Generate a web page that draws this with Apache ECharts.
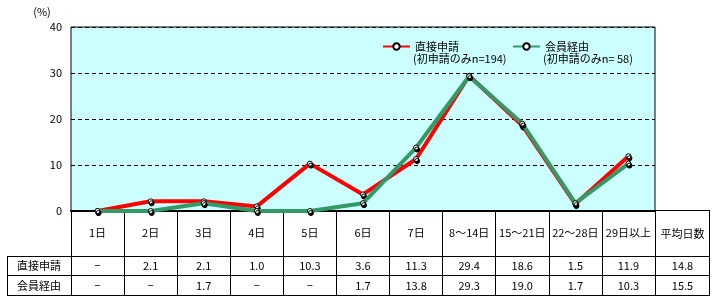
<!DOCTYPE html>
<html>
<head>
<meta charset="utf-8">
<script src="https://cdn.jsdelivr.net/npm/echarts@6/dist/echarts.min.js"></script>
<style>
  html, body { margin: 0; padding: 0; background: #fff; }
  #chart { width: 720px; height: 303px; }
</style>
</head>
<body>
<div id="chart"></div>
<script>
// Days required per application type (%), with summary table below the plot
const categories = ['1日', '2日', '3日', '4日', '5日', '6日', '7日', '8〜14日', '15〜21日', '22〜28日', '29日以上'];
const directValues = [0, 2.1, 2.1, 1.0, 10.3, 3.6, 11.3, 29.4, 18.6, 1.5, 11.9];
const memberValues = [0, 0, 1.7, 0, 0, 1.7, 13.8, 29.3, 19.0, 1.7, 10.3];
const directAverage = 14.8;
const memberAverage = 15.5;
const seriesNames = ['直接申請', '会員経由'];
const seriesNotes = ['(初申請のみn=194)', '(初申請のみn= 58)'];
const averageHeader = '平均日数';
const yMin = 0, yMax = 40, yStep = 10;

const FONT = '"Noto Sans CJK JP", "Noto Sans", sans-serif';

// plot frame and table layout (pixels)
const plot = { left: 71, top: 27, right: 655, bottom: 211 };
const table = { left: 7, right: 710, headerBottom: 256, row1Bottom: 275, row2Bottom: 296 };

const fmt = v => (v === 0 ? '−' : v.toFixed(1));

const chart = echarts.init(document.getElementById('chart'), null, { renderer: 'canvas' });

const hLine = (x1, x2, y) => ({
  type: 'line', silent: true,
  shape: { x1: x1, y1: y + 0.5, x2: x2, y2: y + 0.5 },
  style: { stroke: '#000', lineWidth: 1 }
});
const vLine = (x, y1, y2) => ({
  type: 'line', silent: true,
  shape: { x1: x + 0.5, y1: y1, x2: x + 0.5, y2: y2 },
  style: { stroke: '#000', lineWidth: 1 }
});
const label = (text, cx, cy, align) => ({
  type: 'text', silent: true,
  style: {
    text: text, x: cx, y: cy, align: align || 'center', verticalAlign: 'middle',
    font: '11px ' + FONT, fill: '#000'
  }
});

const avgCx = (plot.right + table.right) / 2;
const rowLabelCx = (table.left + plot.left) / 2;
const row1Cy = (table.headerBottom + table.row1Bottom) / 2;
const row2Cy = (table.row1Bottom + table.row2Bottom) / 2;

const symbolStyle = {
  color: '#fff', borderColor: '#000', borderWidth: 1,
  shadowColor: '#000', shadowBlur: 0, shadowOffsetX: 1, shadowOffsetY: 2
};

const rowAxis = (values, offset) => ({
  type: 'category', gridIndex: 0, position: 'bottom', offset: offset,
  data: categories, boundaryGap: true,
  axisLine: { show: false }, axisTick: { show: false }, splitLine: { show: false },
  axisLabel: {
    interval: 0, margin: 0, color: '#000', fontSize: 11, fontFamily: FONT,
    formatter: (v, i) => fmt(values[i])
  }
});

const legendBase = {
  top: 41, padding: 0, itemWidth: 27, itemHeight: 8,
  textStyle: { fontSize: 11, color: '#000', fontFamily: FONT },
  selectedMode: false
};

chart.setOption({
  animation: false,
  backgroundColor: '#fff',
  grid: {
    left: plot.left, top: plot.top,
    width: plot.right - plot.left, height: plot.bottom - plot.top,
    show: true, backgroundColor: '#ccffff', borderColor: '#000', borderWidth: 1
  },
  legend: [
    Object.assign({ data: [seriesNames[0]], left: 382 }, legendBase),
    Object.assign({ data: [seriesNames[1]], left: 512 }, legendBase)
  ],
  xAxis: [
    {
      type: 'category', data: categories, boundaryGap: true, position: 'bottom',
      axisLine: { show: true, onZero: false, lineStyle: { color: '#000', width: 2 } },
      axisTick: { show: true, interval: 0, length: table.row2Bottom - plot.bottom, lineStyle: { color: '#000', width: 1 } },
      axisLabel: { interval: 0, margin: 16, color: '#000', fontSize: 11, fontFamily: FONT },
      splitLine: { show: false }
    },
    rowAxis(directValues, 49),
    rowAxis(memberValues, 69)
  ],
  yAxis: {
    type: 'value', min: yMin, max: yMax, interval: yStep,
    axisLine: { show: false }, axisTick: { show: false },
    axisLabel: { margin: 9, color: '#000', fontSize: 11, fontFamily: FONT },
    splitLine: { show: true, lineStyle: { color: '#000', width: 1, type: [4, 3] } }
  },
  series: [
    {
      name: seriesNames[0], type: 'line', data: directValues,
      xAxisIndex: 0, yAxisIndex: 0,
      symbol: 'circle', symbolSize: 5, showAllSymbol: true,
      lineStyle: { color: '#ff0000', width: 4 },
      itemStyle: symbolStyle, z: 3
    },
    {
      name: seriesNames[1], type: 'line', data: memberValues,
      xAxisIndex: 0, yAxisIndex: 0,
      symbol: 'circle', symbolSize: 5, showAllSymbol: true,
      lineStyle: { color: '#339966', width: 4 },
      itemStyle: symbolStyle, z: 4
    }
  ],
  graphic: [
    // unit label
    label('(%)', 42, 12),
    // legend sub-captions
    label(seriesNotes[0], 413, 59, 'left'),
    label(seriesNotes[1], 543, 59, 'left'),
    // table rules
    hLine(table.left, table.right, table.headerBottom),
    hLine(table.left, table.right, table.row1Bottom),
    hLine(table.left, table.right, table.row2Bottom - 1),
    hLine(plot.right, table.right, plot.bottom - 1),
    vLine(table.left, table.headerBottom, table.row2Bottom),
    vLine(table.right - 1, plot.bottom - 1, table.row2Bottom),
    // row headers
    label(seriesNames[0], rowLabelCx, row1Cy),
    label(seriesNames[1], rowLabelCx, row2Cy),
    // average column
    label(averageHeader, avgCx, (plot.bottom + table.headerBottom) / 2),
    label(directAverage.toFixed(1), avgCx, row1Cy),
    label(memberAverage.toFixed(1), avgCx, row2Cy)
  ]
});
</script>
</body>
</html>
